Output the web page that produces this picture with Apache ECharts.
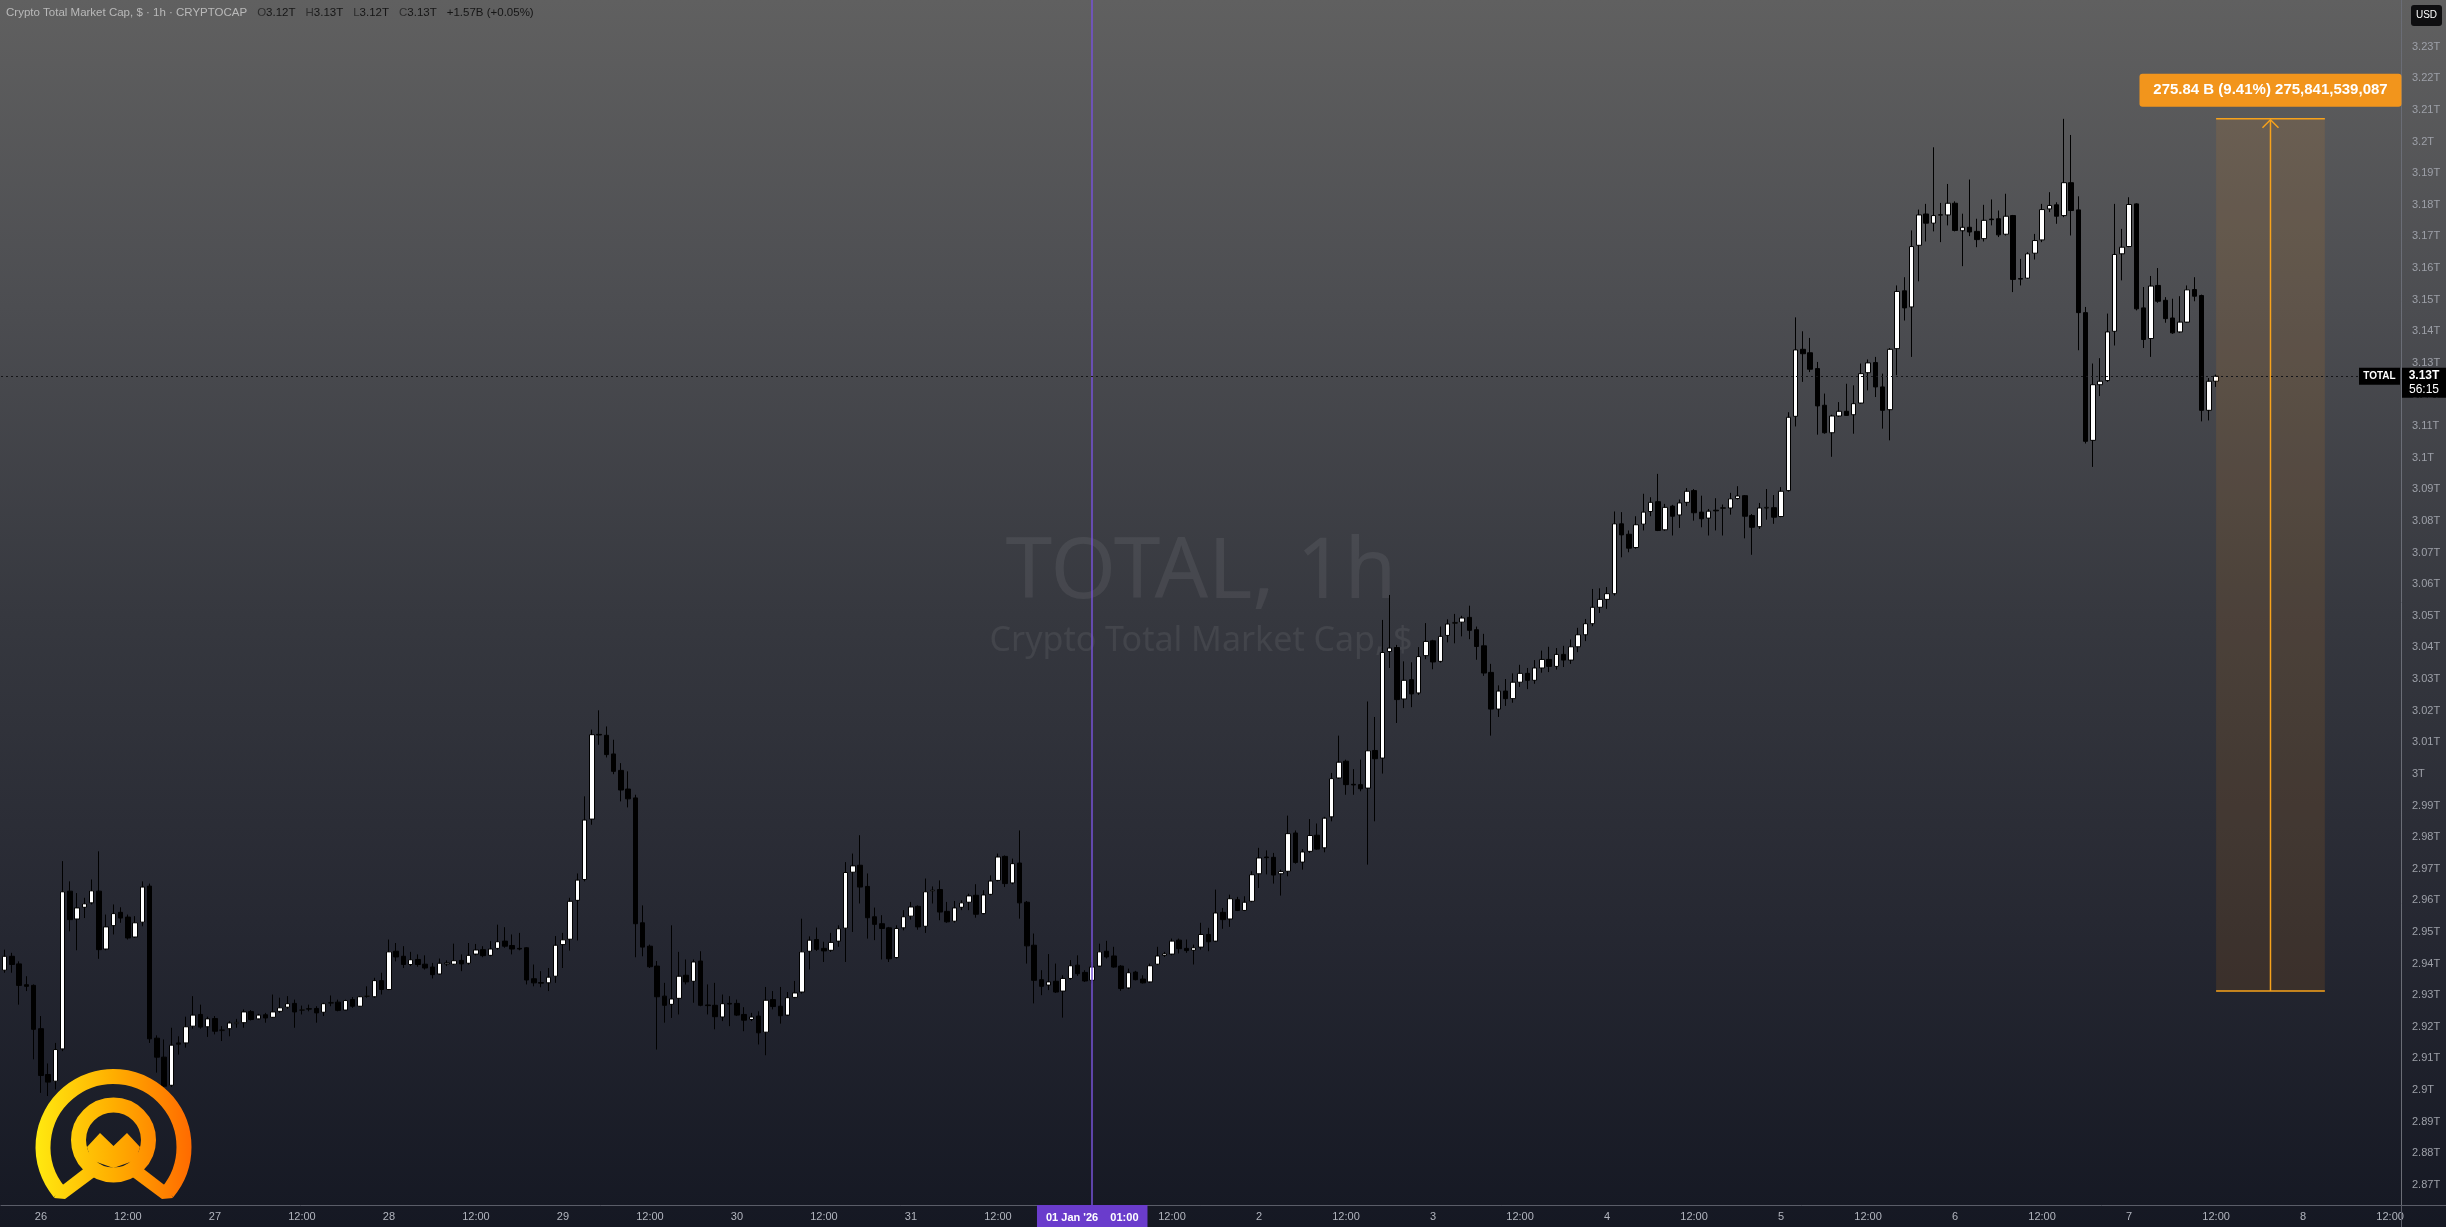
<!DOCTYPE html>
<html><head><meta charset="utf-8">
<script src="https://cdn.jsdelivr.net/npm/echarts@6/dist/echarts.min.js"></script>
<style>html,body{margin:0;padding:0;width:2446px;height:1227px;overflow:hidden;background:#2a2c33}#c{width:2446px;height:1227px}</style>
</head><body><div id="c"></div><script>
// Hourly candles, hour offsets relative to 26 Dec 2025 00:00; first candle = 25 Dec 19:00 (offset -5)
const firstHour = -5;
const lastAxisHour = 325;
const opens = [
2.9379,2.9423,2.9399,2.9333,2.9331,2.9194,2.9049,2.9028,2.9130,2.9629,
2.9541,2.9578,2.9592,2.9629,2.9446,2.9520,2.9562,2.9547,2.9484,2.9531,
2.9645,2.9164,2.9104,2.9015,2.9149,2.9149,2.9202,2.9239,2.9200,2.9226,
2.9188,2.9194,2.9210,2.9213,2.9248,2.9225,2.9238,2.9230,2.9249,2.9262,
2.9274,2.9252,2.9257,2.9258,2.9246,2.9275,2.9278,2.9253,2.9286,2.9265,
2.9296,2.9295,2.9346,2.9318,2.9439,2.9423,2.9397,2.9413,2.9398,2.9389,
2.9367,2.9399,2.9398,2.9410,2.9401,2.9430,2.9444,2.9426,2.9448,2.9471,
2.9457,2.9448,2.9450,2.9352,2.9340,2.9339,2.9360,2.9460,2.9477,2.9600,
2.9666,2.9857,3.0125,3.0122,3.0063,3.0011,2.9952,2.9924,2.9529,2.9455,
2.9392,2.9297,2.9271,2.9290,2.9363,2.9344,2.9408,2.9269,2.9268,2.9231,
2.9274,2.9274,2.9239,2.9223,2.9234,2.9183,2.9286,2.9265,2.9237,2.9293,
2.9310,2.9439,2.9476,2.9448,2.9442,2.9471,2.9512,2.9689,2.9711,2.9644,
2.9548,2.9526,2.9513,2.9419,2.9513,2.9550,2.9581,2.9518,2.9629,2.9634,
2.9565,2.9534,2.9578,2.9594,2.9616,2.9558,2.9619,2.9663,2.9739,2.9655,
2.9718,2.9594,2.9458,2.9349,2.9332,2.9344,2.9313,2.9353,2.9395,2.9372,
2.9347,2.9392,2.9439,2.9424,2.9392,2.9323,2.9373,2.9351,2.9342,2.9398,
2.9426,2.9430,2.9474,2.9448,2.9442,2.9452,2.9492,2.9471,2.9562,2.9541,
2.9602,2.9568,2.9597,2.9684,2.9737,2.9736,2.9684,2.9692,2.9813,2.9721,
2.9755,2.9806,2.9766,2.9864,2.9987,3.0040,2.9967,2.9966,2.9955,3.0074,
3.0050,3.0387,3.0400,3.0237,3.0298,3.0256,3.0374,3.0421,3.0356,3.0438,
3.0476,3.0480,3.0495,3.0456,3.0405,3.0321,3.0205,3.0262,3.0238,3.0290,
3.0318,3.0296,3.0335,3.0362,3.0340,3.0378,3.0360,3.0402,3.0440,3.0475,
3.0527,3.0552,3.0570,3.0791,3.0758,3.0716,3.0790,3.0830,3.0861,3.0772,
3.0847,3.0819,3.0859,3.0896,3.0828,3.0809,3.0834,3.0840,3.0841,3.0871,
3.0880,3.0817,3.0782,3.0841,3.0842,3.0814,3.0896,3.1131,3.1343,3.1332,
3.1282,3.1166,3.1079,3.1132,3.1147,3.1136,3.1173,3.1269,3.1301,3.1224,
3.1152,3.1345,3.1528,3.1477,3.1672,3.1771,3.1742,3.1767,3.1768,3.1805,
3.1718,3.1729,3.1716,3.1693,3.1755,3.1756,3.1707,3.1766,3.1567,3.1568,
3.1647,3.1689,3.1787,3.1800,3.1766,3.1870,3.1784,3.1459,3.1055,3.1231,
3.1244,3.1400,3.1645,3.1668,3.1803,3.1474,3.1377,3.1545,3.1498,3.1442,
3.1398,3.1429,3.1532,3.1513,3.1150,3.1242];
const closes = [
2.9423,2.9397,2.9331,2.9328,2.9192,2.9046,2.9025,2.9128,2.9627,2.9539,
2.9576,2.9589,2.9630,2.9444,2.9516,2.9558,2.9544,2.9481,2.9529,2.9642,
2.9162,2.9104,2.9012,2.9142,2.9145,2.9200,2.9237,2.9199,2.9225,2.9186,
2.9190,2.9212,2.9214,2.9247,2.9223,2.9237,2.9228,2.9247,2.9260,2.9273,
2.9247,2.9254,2.9256,2.9244,2.9273,2.9277,2.9252,2.9283,2.9265,2.9295,
2.9298,2.9346,2.9318,2.9437,2.9421,2.9397,2.9412,2.9397,2.9386,2.9365,
2.9401,2.9402,2.9409,2.9399,2.9426,2.9443,2.9425,2.9446,2.9469,2.9455,
2.9446,2.9446,2.9348,2.9339,2.9338,2.9357,2.9458,2.9475,2.9597,2.9664,
2.9854,3.0124,3.0123,3.0061,3.0008,2.9949,2.9921,2.9526,2.9452,2.9390,
2.9295,2.9268,2.9288,2.9360,2.9342,2.9405,2.9268,2.9267,2.9232,2.9273,
2.9272,2.9237,2.9221,2.9231,2.9181,2.9284,2.9264,2.9235,2.9292,2.9307,
2.9437,2.9474,2.9445,2.9440,2.9467,2.9510,2.9688,2.9709,2.9642,2.9545,
2.9524,2.9511,2.9415,2.9511,2.9548,2.9579,2.9516,2.9627,2.9632,2.9563,
2.9532,2.9576,2.9592,2.9614,2.9556,2.9617,2.9661,2.9737,2.9653,2.9716,
2.9592,2.9456,2.9347,2.9328,2.9342,2.9310,2.9353,2.9393,2.9368,2.9345,
2.9389,2.9437,2.9421,2.9389,2.9321,2.9371,2.9349,2.9339,2.9393,2.9424,
2.9431,2.9471,2.9447,2.9441,2.9450,2.9492,2.9469,2.9560,2.9539,2.9605,
2.9568,2.9594,2.9681,2.9734,2.9735,2.9680,2.9691,2.9811,2.9720,2.9753,
2.9805,2.9762,2.9860,2.9985,3.0037,2.9966,2.9965,2.9953,3.0073,3.0048,
3.0384,3.0398,3.0235,3.0296,3.0253,3.0371,3.0419,3.0354,3.0435,3.0474,
3.0479,3.0493,3.0454,3.0403,3.0319,3.0205,3.0262,3.0238,3.0290,3.0318,
3.0296,3.0335,3.0362,3.0340,3.0378,3.0360,3.0402,3.0440,3.0475,3.0527,
3.0552,3.0570,3.0791,3.0756,3.0714,3.0788,3.0828,3.0859,3.0770,3.0843,
3.0815,3.0857,3.0894,3.0826,3.0807,3.0831,3.0832,3.0842,3.0870,3.0879,
3.0815,3.0780,3.0841,3.0843,3.0812,3.0894,3.1128,3.1341,3.1329,3.1280,
3.1164,3.1079,3.1132,3.1147,3.1134,3.1171,3.1266,3.1300,3.1224,3.1150,
3.1343,3.1526,3.1474,3.1668,3.1768,3.1742,3.1766,3.1769,3.1805,3.1719,
3.1729,3.1714,3.1690,3.1751,3.1753,3.1705,3.1764,3.1564,3.1565,3.1645,
3.1687,3.1785,3.1798,3.1764,3.1870,3.1782,3.1459,3.1052,3.1231,3.1242,
3.1398,3.1643,3.1666,3.1801,3.1471,3.1374,3.1543,3.1495,3.1440,3.1395,
3.1429,3.1531,3.1511,3.1150,3.1242,3.1258];
const lows = [
2.9371,2.9371,2.9270,2.9313,2.9097,2.8991,2.8981,2.9002,2.9123,2.9502,
2.9442,2.9544,2.9587,2.9415,2.9442,2.9492,2.9529,2.9476,2.9481,2.9518,
2.9149,2.9055,2.9002,2.9010,2.9112,2.9134,2.9194,2.9194,2.9168,2.9176,
2.9155,2.9170,2.9197,2.9197,2.9220,2.9223,2.9213,2.9228,2.9244,2.9257,
2.9197,2.9239,2.9249,2.9213,2.9234,2.9265,2.9249,2.9252,2.9260,2.9263,
2.9292,2.9292,2.9302,2.9316,2.9407,2.9386,2.9392,2.9390,2.9381,2.9353,
2.9365,2.9392,2.9395,2.9376,2.9397,2.9426,2.9420,2.9423,2.9444,2.9450,
2.9429,2.9442,2.9334,2.9328,2.9325,2.9313,2.9339,2.9386,2.9441,2.9473,
2.9660,2.9839,3.0092,3.0052,2.9999,2.9913,2.9894,2.9420,2.9423,2.9386,
2.9128,2.9213,2.9228,2.9239,2.9334,2.9276,2.9265,2.9239,2.9192,2.9218,
2.9202,2.9234,2.9186,2.9218,2.9144,2.9110,2.9255,2.9210,2.9234,2.9290,
2.9305,2.9381,2.9440,2.9405,2.9437,2.9453,2.9405,2.9500,2.9590,2.9479,
2.9474,2.9413,2.9405,2.9416,2.9505,2.9539,2.9507,2.9497,2.9590,2.9537,
2.9529,2.9530,2.9569,2.9569,2.9545,2.9556,2.9616,2.9660,2.9642,2.9651,
2.9542,2.9400,2.9274,2.9300,2.9316,2.9307,2.9229,2.9349,2.9361,2.9342,
2.9337,2.9389,2.9416,2.9387,2.93136,2.9319,2.9347,2.9337,2.9339,2.9395,
2.9421,2.9426,2.9432,2.9434,2.9397,2.9444,2.9439,2.9468,2.9510,2.9516,
2.9566,2.9566,2.9594,2.9639,2.9682,2.9653,2.9615,2.9676,2.9716,2.9697,
2.9750,2.9760,2.9752,2.9850,2.9984,2.9934,2.9934,2.9945,2.9713,2.9850,
3.0001,3.0335,3.0161,3.0208,3.0211,3.0250,3.0363,3.0331,3.0352,3.0416,
3.0413,3.0435,3.0426,3.0361,3.0310,3.0121,3.0180,3.0215,3.0225,3.0275,
3.0268,3.0285,3.0320,3.0322,3.0330,3.0338,3.0348,3.0385,3.0420,3.0467,
3.0509,3.0522,3.0564,3.0685,3.0701,3.0712,3.0770,3.0815,3.0768,3.0769,
3.0754,3.0778,3.0847,3.0801,3.0780,3.0754,3.0770,3.0754,3.0820,3.0868,
3.0745,3.0693,3.0775,3.0804,3.0791,3.0812,3.0893,3.1099,3.1240,3.1271,
3.1073,3.1076,3.1003,3.1129,3.1132,3.1076,3.1171,3.1213,3.1192,3.1092,
3.1055,3.1261,3.1434,3.1319,3.1558,3.1684,3.1716,3.1682,3.1735,3.1716,
3.1606,3.1701,3.1666,3.1684,3.1735,3.1698,3.1703,3.1524,3.1545,3.1566,
3.1627,3.1682,3.1777,3.1740,3.1761,3.1703,3.1340,3.1045,3.0971,3.1195,
3.1240,3.1355,3.1561,3.1666,3.1466,3.1347,3.1319,3.1490,3.1427,3.1392,
3.1395,3.1427,3.1495,3.1115,3.1118,3.1224];
const highs = [
2.9444,2.9434,2.9407,2.9360,2.9334,2.9234,2.9084,2.9149,2.9724,2.9660,
2.9623,2.9608,2.9666,2.9755,2.9555,2.9587,2.9578,2.9555,2.9550,2.9660,
2.9653,2.9173,2.9160,2.9197,2.9170,2.9232,2.9297,2.9270,2.9232,2.9234,
2.9202,2.9218,2.9225,2.9255,2.9253,2.9241,2.9244,2.9302,2.9292,2.9297,
2.9286,2.9267,2.9270,2.9265,2.9276,2.9299,2.9286,2.9286,2.9294,2.9297,
2.9328,2.9355,2.9371,2.9476,2.9465,2.9455,2.9437,2.9429,2.9426,2.9402,
2.9416,2.9410,2.9463,2.9429,2.9465,2.9462,2.9455,2.9471,2.9523,2.9515,
2.9492,2.9497,2.9452,2.9397,2.9376,2.9386,2.9487,2.9497,2.9608,2.9685,
2.9929,3.0140,3.0201,3.0150,3.0108,3.0034,3.0008,2.9934,2.9584,2.9460,
2.9408,2.9339,2.9521,2.9437,2.9413,2.9413,2.9439,2.9334,2.9339,2.9302,
2.9297,2.9286,2.9262,2.9244,2.9249,2.9326,2.9313,2.9326,2.9310,2.9345,
2.9542,2.9486,2.9514,2.9469,2.9497,2.9521,2.9721,2.9748,2.9806,2.9685,
2.9577,2.9553,2.9516,2.9521,2.9569,2.9595,2.9584,2.9669,2.9644,2.9663,
2.9595,2.9598,2.9600,2.9621,2.9651,2.9632,2.9679,2.9748,2.9742,2.9732,
2.9821,2.9598,2.9495,2.9379,2.9430,2.9400,2.9363,2.9411,2.9426,2.9379,
2.9405,2.9463,2.9472,2.9453,2.9395,2.9384,2.9377,2.9363,2.9400,2.9453,
2.9437,2.9479,2.9479,2.9476,2.9460,2.9529,2.9513,2.9634,2.9576,2.9618,
2.9611,2.9613,2.9692,2.9766,2.9758,2.9750,2.9697,2.9868,2.9821,2.9762,
2.9857,2.9843,2.9864,3.0003,3.0121,3.0045,3.0015,3.0045,3.0229,3.0180,
3.0487,3.0566,3.0408,3.0356,3.0353,3.0401,3.0477,3.0424,3.0466,3.0489,
3.0506,3.0500,3.0532,3.0466,3.0443,3.0348,3.0280,3.0300,3.0318,3.0345,
3.0335,3.0360,3.0390,3.0402,3.0398,3.0405,3.0425,3.0462,3.0490,3.0585,
3.0587,3.0591,3.0830,3.0828,3.0770,3.0815,3.0886,3.0875,3.0949,3.0854,
3.0851,3.0868,3.0904,3.0901,3.0880,3.0838,3.0872,3.0852,3.0889,3.0910,
3.0882,3.0822,3.0857,3.0901,3.0882,3.0907,3.1144,3.1444,3.1400,3.1379,
3.1303,3.1203,3.1136,3.1176,3.1234,3.1229,3.1298,3.1311,3.1319,3.1266,
3.1347,3.1545,3.1571,3.1719,3.1785,3.1803,3.1982,3.1806,3.1866,3.1811,
3.1772,3.1880,3.1756,3.1800,3.1817,3.1782,3.1835,3.1768,3.1629,3.1650,
3.1708,3.1803,3.1840,3.1808,3.2072,3.2021,3.1827,3.1477,3.1298,3.1315,
3.1456,3.1803,3.1724,3.1824,3.1805,3.1540,3.1575,3.1600,3.1508,3.1503,
3.1511,3.1545,3.1571,3.1516,3.1252,3.1263];

const xTickHours = [0,12,24,36,48,60,72,84,96,108,120,132,144,156,168,180,192,204,216,228,240,252,264,276,288,300,312,324];
const xTickTexts = ['26','12:00','27','12:00','28','12:00','29','12:00','30','12:00','31','12:00','Jan','12:00','2','12:00','3','12:00','4','12:00','5','12:00','6','12:00','7','12:00','8','12:00'];
const yTicks = [2.87,2.88,2.89,2.90,2.91,2.92,2.93,2.94,2.95,2.96,2.97,2.98,2.99,3.00,3.01,3.02,3.03,3.04,3.05,3.06,3.07,3.08,3.09,3.10,3.11,3.12,3.13,3.14,3.15,3.16,3.17,3.18,3.19,3.20,3.21,3.22,3.23];

const markerHour = 145;              // 01 Jan '26 01:00
const markerText = "01 Jan '26    01:00";
const lastClose = 3.1258;
const lastPriceText = '3.13T';
const countdownText = '56:15';
const measureFromHour = 300, measureToHour = 315;
const measureLow = 2.93136, measureHigh = 3.20720;
const measureText = '275.84 B (9.41%) 275,841,539,087';
const headerTitle = 'Crypto Total Market Cap, $ · 1h · CRYPTOCAP';
const headerOHLC = [['O','3.12T'],['H','3.13T'],['L','3.12T'],['C','3.13T']];
const headerChange = '+1.57B (+0.05%)';

const FONT = '"Liberation Sans", Arial, sans-serif';
const categories = [];
for (let h = firstHour; h <= lastAxisHour; h++) categories.push(String(h));
const candleData = opens.map((o, i) => [o, closes[i], lows[i], highs[i]]);

function fmtT(v) { return (Math.round(v * 100) / 100).toString() + 'T'; }

function renderMeasure(params, api) {
  const p0 = api.coord([api.value(0), api.value(3)]);
  const p1 = api.coord([api.value(1), api.value(2)]);
  const x0 = p0[0], x1 = p1[0], yTop = p0[1], yBot = p1[1];
  const xm = (x0 + x1) / 2;
  const col = '#f7a21b';
  return { type: 'group', children: [
    { type: 'rect', shape: { x: x0, y: yTop, width: x1 - x0, height: yBot - yTop }, style: { fill: 'rgba(255,150,20,0.11)' } },
    { type: 'line', shape: { x1: x0, y1: yTop, x2: x1, y2: yTop }, style: { stroke: col, lineWidth: 1.5 } },
    { type: 'line', shape: { x1: x0, y1: yBot, x2: x1, y2: yBot }, style: { stroke: col, lineWidth: 1.5 } },
    { type: 'line', shape: { x1: xm, y1: yBot, x2: xm, y2: yTop + 1 }, style: { stroke: col, lineWidth: 1.5 } },
    { type: 'polyline', shape: { points: [[xm - 8, yTop + 9], [xm, yTop + 1], [xm + 8, yTop + 9]] }, style: { stroke: col, lineWidth: 1.5, fill: null } },
    { type: 'rect', shape: { x: xm - 131, y: yTop - 45, width: 262, height: 33, r: 3 }, style: { fill: '#f2951c' } },
    { type: 'text', style: { x: xm, y: yTop - 28.5, text: measureText, align: 'center', verticalAlign: 'middle', fill: '#ffffff', font: 'bold 15px ' + FONT } }
  ]};
}

const chart = echarts.init(document.getElementById('c'));
const option = {
  animation: false,
  backgroundColor: new echarts.graphic.LinearGradient(0, 0, 0, 1, [
    { offset: 0, color: '#606060' }, { offset: 0.25, color: '#4c4d51' },
    { offset: 0.5, color: '#36383f' }, { offset: 0.75, color: '#262832' }, { offset: 1, color: '#151823' }
  ]),
  textStyle: { fontFamily: FONT },
  grid: { left: 1, right: 45, top: 0, bottom: 22, containLabel: false },
  xAxis: {
    type: 'category', data: categories, boundaryGap: true,
    axisLine: { show: true, lineStyle: { color: '#5a5d68', width: 1 } },
    axisTick: { show: false },
    splitLine: { show: false },
    axisLabel: {
      color: '#b2b5be', fontSize: 11, margin: 6,
      interval: function (idx, val) { return xTickHours.indexOf(+val) >= 0; },
      formatter: function (val) { const k = xTickHours.indexOf(+val); return k >= 0 ? xTickTexts[k] : ''; }
    }
  },
  yAxis: {
    type: 'value', position: 'right', min: 2.86363, max: 3.24479,
    axisLine: { show: true, lineStyle: { color: '#6a6d76', width: 1 } },
    axisTick: { show: false },
    splitLine: { show: false },
    axisLabel: { customValues: yTicks, formatter: fmtT, color: '#9da0a8', fontSize: 11, margin: 11 }
  },
  series: [
    {
      type: 'candlestick', data: candleData, barWidth: 5, z: 3,
      itemStyle: { color: '#ffffff', color0: '#000000', borderColor: '#000000', borderColor0: '#000000', borderWidth: 1 },
      markLine: {
        silent: true, symbol: ['none', 'none'], animation: false, precision: 6,
        data: [
          { xAxis: String(markerHour), lineStyle: { color: '#7652d6', width: 1.5, type: 'solid' },
            label: { show: true, position: 'start', distance: 0, formatter: markerText, backgroundColor: '#6a3ccc', color: '#ffffff', fontWeight: 'bold', fontSize: 11, padding: [7, 9, 6, 9], fontFamily: FONT } },
          { yAxis: lastClose, lineStyle: { color: '#151518', width: 1, type: [2, 3] }, label: { show: false } }
        ]
      }
    },
    {
      type: 'custom', renderItem: renderMeasure, z: 4, silent: true,
      encode: { x: [0, 1], y: [2, 3] },
      data: [[String(measureFromHour), String(measureToHour), measureLow, measureHigh]]
    }
  ]
};
chart.setOption(option);

const yLast = chart.convertToPixel({ yAxisIndex: 0 }, lastClose);
const logoGrad = new echarts.graphic.LinearGradient(35, 0, 192, 0, [{ offset: 0, color: '#ffea10' }, { offset: 0.5, color: '#ffae00' }, { offset: 1, color: '#ff6a00' }], true);
let headerRich = '{t|' + headerTitle + '}';
headerOHLC.forEach((p, i) => { headerRich += (i === 0 ? '   ' : '   ') + '{l|' + p[0] + '}{v|' + p[1] + '}'; });
headerRich += '   {v|' + headerChange + '}';

chart.setOption({
  graphic: [
    { type: 'text', z: 0, style: { x: 1201, y: 574, text: 'TOTAL, 1h', align: 'center', verticalAlign: 'middle', fill: 'rgba(255,255,255,0.07)', font: '84px "Noto Sans", sans-serif' } },
    { type: 'text', z: 0, style: { x: 1201, y: 641, text: 'Crypto Total Market Cap, $', align: 'center', verticalAlign: 'middle', fill: 'rgba(255,255,255,0.07)', font: '34px "Noto Sans", sans-serif' } },
    { type: 'text', z: 100, style: { x: 6, y: 13, verticalAlign: 'middle', text: headerRich,
        rich: { t: { fill: '#b9b9b9', font: '11.5px ' + FONT }, l: { fill: '#2e2e2e', font: '11.5px ' + FONT }, v: { fill: '#161616', font: '11.5px ' + FONT } } } },
    { type: 'line', z: 100, shape: { x1: 2401, y1: 1205.5, x2: 2446, y2: 1205.5 }, style: { stroke: '#5a5d68', lineWidth: 1 } },
    { type: 'line', z: 100, shape: { x1: 2401.5, y1: 1205, x2: 2401.5, y2: 1227 }, style: { stroke: '#5a5d68', lineWidth: 1 } },
    { type: 'rect', z: 100, shape: { x: 2411, y: 5, width: 31, height: 21, r: 3 }, style: { fill: '#0e0e10' } },
    { type: 'text', z: 101, style: { x: 2426.5, y: 15.5, text: 'USD', align: 'center', verticalAlign: 'middle', fill: '#ffffff', font: '10px ' + FONT } },
    { type: 'rect', z: 100, shape: { x: 2402, y: yLast - 8.5, width: 44, height: 30 }, style: { fill: '#000000' } },
    { type: 'text', z: 101, style: { x: 2424, y: yLast, text: lastPriceText, align: 'center', verticalAlign: 'middle', fill: '#ffffff', font: 'bold 12px ' + FONT } },
    { type: 'text', z: 101, style: { x: 2424, y: yLast + 13.5, text: countdownText, align: 'center', verticalAlign: 'middle', fill: '#ffffff', font: '12px ' + FONT } },
    { type: 'rect', z: 100, shape: { x: 2359, y: yLast - 8.5, width: 41, height: 17 }, style: { fill: '#000000' } },
    { type: 'text', z: 101, style: { x: 2379.5, y: yLast, text: 'TOTAL', align: 'center', verticalAlign: 'middle', fill: '#ffffff', font: 'bold 10px ' + FONT } },
    // logo
    { type: 'arc', z: 50, shape: { cx: 113.5, cy: 1147, r: 70.5, startAngle: 140 * Math.PI / 180, endAngle: 400 * Math.PI / 180, clockwise: true }, style: { stroke: logoGrad, lineWidth: 15, fill: null } },
    { type: 'polygon', z: 50, shape: { points: [[54, 1198], [65, 1199], [104, 1170], [95, 1160], [60, 1187]] }, style: { fill: logoGrad } },
    { type: 'polygon', z: 50, shape: { points: [[173, 1198], [162, 1199], [123, 1170], [132, 1160], [167, 1187]] }, style: { fill: logoGrad } },
    { type: 'arc', z: 50, shape: { cx: 113.5, cy: 1140, r: 35, startAngle: 0, endAngle: Math.PI * 2, clockwise: true }, style: { stroke: logoGrad, lineWidth: 15, fill: null } },
    { type: 'polygon', z: 50, shape: { points: [[87, 1147], [100, 1133], [113.5, 1146], [127, 1133], [140, 1147], [136, 1160], [113.5, 1168], [91, 1160]] }, style: { fill: logoGrad } }
  ]
});
</script></body></html>
